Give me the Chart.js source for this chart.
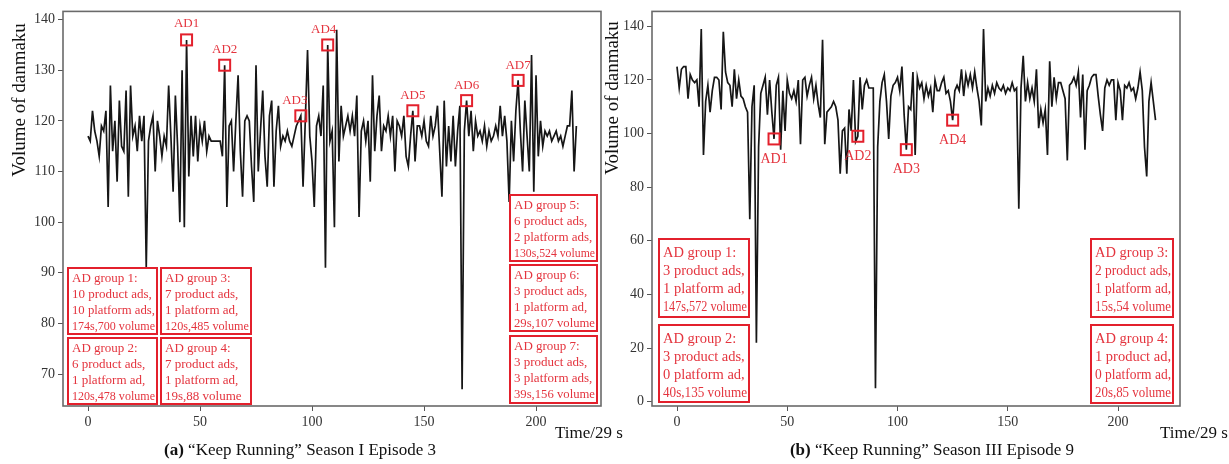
<!DOCTYPE html>
<html><head><meta charset="utf-8">
<script src="https://cdn.jsdelivr.net/npm/chart.js@4.4.1/dist/chart.umd.min.js"></script>
<style>
html,body{margin:0;padding:0;background:#fff;}
body{width:1229px;height:464px;overflow:hidden;position:relative;}
canvas{position:absolute;top:0;}
</style></head>
<body>
<canvas id="c1" width="640" height="464" style="left:0px"></canvas>
<canvas id="c2" width="631" height="464" style="left:598px"></canvas>
<script>
// ---------- DATA ----------
const leftVolume = [
117,116,122,118,116,113,119,118,122,103,127,114,120,108,124,115,114,126,105,127,
117,119,114,121,116,121,91,116,119,121,110,120,117,113,117,115,127,117,106,125,
115,100,130,99,136,109,121,113,121,112,119,116,120,114,117,116,116,116,116,116,
113,131,103,119,120,110,120,129,114,105,120,121,120,111,104,131,110,118,126,113,
107,121,124,107,118,123,115,117,116,118,116,115,117,119,120,121,107,120,134,117,
112,103,119,121,117,127,91,135,116,118,99,138,112,123,117,119,121,118,121,117,
125,101,118,120,116,120,108,129,114,121,125,114,119,118,121,117,121,110,120,119,
117,121,113,111,117,122,112,119,119,117,120,116,115,121,117,119,123,114,105,124,
111,119,112,121,111,118,123,67,118,124,117,122,114,120,117,118,116,119,115,118,
116,117,119,117,123,117,121,116,104,120,112,122,128,118,110,124,117,110,133,106,
129,113,120,115,118,117,118,116,117,118,116,117,115,117,119,119,126,110,119
];
const rightVolume = [
125,117,124,125,125,113,122,120,119,120,110,139,92,112,118,108,116,121,121,120,
109,138,123,119,118,110,124,113,120,114,113,110,108,68,110,118,22,95,115,118,
121,107,120,108,98,118,121,94,116,101,120,115,113,116,112,120,96,120,121,114,
118,121,113,118,111,106,135,96,108,109,110,112,110,105,85,101,102,85,109,101,
120,97,99,121,109,118,120,117,117,117,5,95,112,119,122,112,98,114,118,119,
121,116,125,107,94,110,109,123,92,121,117,119,113,118,114,117,108,120,116,116,
119,121,115,116,112,105,116,118,116,124,114,122,118,122,117,123,117,112,103,139,
112,117,114,118,115,119,117,116,118,115,117,116,119,116,117,72,117,129,112,119,
113,117,112,124,102,109,104,109,92,127,110,121,113,119,119,116,113,90,118,119,
121,118,123,106,122,94,116,118,121,122,122,114,107,101,117,120,118,120,120,105,
119,116,105,118,117,119,116,117,113,117,123,116,95,84,112,119,112,105
];
const xTickValues = [0, 50, 100, 150, 200];
const leftYTickValues = [70, 80, 90, 100, 110, 120, 130, 140];
const rightYTickValues = [0, 20, 40, 60, 80, 100, 120, 140];
const leftAdLabels = ['AD1','AD2','AD3','AD4','AD5','AD6','AD7'];
const leftAdIndex = [44, 61, 95, 107, 145, 169, 192];
const rightAdLabels = ['AD1','AD2','AD3','AD4'];
const rightAdIndex = [44, 82, 104, 125];
const leftGroupTexts = [
  ['AD group 1:','10 product ads,','10 platform ads,','174s,700 volume'],
  ['AD group 2:','6 product ads,','1 platform ad,','120s,478 volume'],
  ['AD group 3:','7 product ads,','1 platform ad,','120s,485 volume'],
  ['AD group 4:','7 product ads,','1 platform ad,','19s,88 volume'],
  ['AD group 5:','6 product ads,','2 platform ads,','130s,524 volume'],
  ['AD group 6:','3 product ads,','1 platform ad,','29s,107 volume'],
  ['AD group 7:','3 product ads,','3 platform ads,','39s,156 volume']
];
const rightGroupTexts = [
  ['AD group 1:','3 product ads,','1 platform ad,','147s,572 volume'],
  ['AD group 2:','3 product ads,','0 platform ad,','40s,135 volume'],
  ['AD group 3:','2 product ads,','1 platform ad,','15s,54 volume'],
  ['AD group 4:','1 product ad,','0 platform ad,','20s,85 volume']
];

// ---------- STYLE / LAYOUT ----------
const SERIF = '"Liberation Serif", "Times New Roman", serif';
const RED = '#e3202c';
const RED_TEXT = '#e4343e';

function toPoints(arr){ return arr.map((v,i)=>({x:i, y:v})); }

function makeChart(canvasId, cfg){
  const annot = {
    id: 'annot',
    afterDraw(chart){
      const ctx = chart.ctx, a = chart.chartArea;
      const xs = chart.scales.x, ys = chart.scales.y;
      ctx.save();
      ctx.strokeStyle = '#6a6a6a'; ctx.lineWidth = 1.6;
      ctx.strokeRect(a.left, a.top, a.right - a.left, a.bottom - a.top);
      ctx.strokeStyle = RED; ctx.lineWidth = 2;
      ctx.fillStyle = RED_TEXT;
      ctx.textAlign = 'center';
      ctx.font = cfg.adFont + 'px ' + SERIF;
      cfg.adIndex.forEach((idx, k)=>{
        const px = xs.getPixelForValue(idx), py = ys.getPixelForValue(cfg.data[idx]);
        const s = cfg.adSize;
        ctx.strokeRect(px - s/2, py - s/2, s, s);
        const off = cfg.adLabelOffset[k];
        ctx.textBaseline = 'middle';
        ctx.fillText(cfg.adLabels[k], px + off[0], py + off[1]);
      });
      ctx.textAlign = 'left'; ctx.textBaseline = 'alphabetic';
      ctx.font = cfg.boxFont + 'px ' + SERIF;
      cfg.boxes.forEach((b, k)=>{
        const x = b[0] - cfg.offsetX, y = b[1], w = b[2], h = b[3];
        ctx.fillStyle = '#fff';
        ctx.fillRect(x, y, w, h);
        ctx.strokeStyle = RED; ctx.lineWidth = 2;
        ctx.strokeRect(x, y, w, h);
        ctx.fillStyle = RED_TEXT;
        cfg.groupTexts[k].forEach((line, j)=>{
          ctx.fillText(line, x + 4, y + cfg.firstBase + j * cfg.lineGap, w - 6);
        });
      });
      ctx.fillStyle = '#111';
      ctx.font = '19px ' + SERIF;
      ctx.save();
      ctx.translate(cfg.yTitle[0] - cfg.offsetX, cfg.yTitle[1]);
      ctx.rotate(-Math.PI/2);
      ctx.textAlign = 'center'; ctx.textBaseline = 'middle';
      ctx.fillText('Volume of danmaku', 0, 0);
      ctx.restore();
      ctx.font = '17px ' + SERIF;
      ctx.textAlign = 'left'; ctx.textBaseline = 'alphabetic';
      ctx.fillText('Time/29 s', cfg.xTitle[0] - cfg.offsetX, cfg.xTitle[1]);
      ctx.font = 'bold 17px ' + SERIF;
      const w1 = ctx.measureText(cfg.captionBold).width;
      ctx.font = '17px ' + SERIF;
      const w2 = ctx.measureText(cfg.captionRest).width;
      const cx0 = cfg.caption[0] - cfg.offsetX - (w1 + w2)/2;
      ctx.font = 'bold 17px ' + SERIF;
      ctx.fillText(cfg.captionBold, cx0, cfg.caption[1]);
      ctx.font = '17px ' + SERIF;
      ctx.fillText(cfg.captionRest, cx0 + w1, cfg.caption[1]);
      ctx.restore();
    }
  };
  return new Chart(document.getElementById(canvasId), {
    type: 'line',
    data: { datasets: [{
      data: toPoints(cfg.data),
      borderColor: '#161616', borderWidth: 1.7,
      pointRadius: 0, tension: 0, fill: false
    }]},
    options: {
      responsive: false, animation: false, devicePixelRatio: 1,
      layout: { padding: { left: 0, top: 10, right: cfg.padRight, bottom: 0 } },
      plugins: { legend: { display: false }, tooltip: { enabled: false } },
      scales: {
        x: {
          type: 'linear', min: cfg.xMin, max: cfg.xMax,
          afterBuildTicks: s => { s.ticks = xTickValues.map(v => ({value: v})); },
          afterFit: s => { s.height = 58; },
          grid: { display: true, drawOnChartArea: false, drawTicks: true, tickLength: 5, color: '#555', lineWidth: 1 },
          border: { display: false },
          ticks: { color: '#333', font: { family: SERIF, size: 14 }, padding: 3, maxRotation: 0 }
        },
        y: {
          type: 'linear', min: cfg.yMin, max: cfg.yMax,
          afterBuildTicks: s => { s.ticks = cfg.yTicks.map(v => ({value: v})); },
          afterFit: s => { s.width = cfg.yWidth; },
          grid: { display: true, drawOnChartArea: false, drawTicks: true, tickLength: 5, color: '#555', lineWidth: 1 },
          border: { display: false },
          ticks: { color: '#333', font: { family: SERIF, size: 14 }, padding: 3 }
        }
      }
    },
    plugins: [annot]
  });
}

makeChart('c1', {
  data: leftVolume, offsetX: 0,
  xMin: -11.16, xMax: 229.0, yMin: 63.68, yMax: 141.63,
  yTicks: leftYTickValues, yWidth: 63, padRight: 39,
  adIndex: leftAdIndex, adLabels: leftAdLabels, adSize: 11, adFont: 13,
  adLabelOffset: [[0,-16],[0,-16],[-6,-15],[-4,-15],[0,-15],[0,-15],[0,-15]],
  boxes: [[68,268,89,66],[68,338,89,66],[161,268,90,66],[161,338,90,66],[510,195,87,66],[510,265,87,66],[510,336,87,67]],
  groupTexts: leftGroupTexts, boxFont: 13, firstBase: 14, lineGap: 16,
  yTitle: [20, 100], xTitle: [555, 438], caption: [300, 455],
  captionBold: '(a) ', captionRest: '\u201cKeep Running\u201d Season I Episode 3'
});

makeChart('c2', {
  data: rightVolume, offsetX: 598,
  xMin: -11.34, xMax: 228.1, yMin: -1.63, yMax: 145.58,
  yTicks: rightYTickValues, yWidth: 54, padRight: 49,
  adIndex: rightAdIndex, adLabels: rightAdLabels, adSize: 11, adFont: 14,
  adLabelOffset: [[0,20],[0,20],[0,20],[0,20]],
  boxes: [[659,239,90,78],[659,325,90,77],[1091,239,82,78],[1091,325,82,78]],
  groupTexts: rightGroupTexts, boxFont: 14.5, firstBase: 18, lineGap: 18,
  yTitle: [613, 98], xTitle: [1160, 438], caption: [932, 455],
  captionBold: '(b) ', captionRest: '\u201cKeep Running\u201d Season III Episode 9'
});
</script>
</body></html>
